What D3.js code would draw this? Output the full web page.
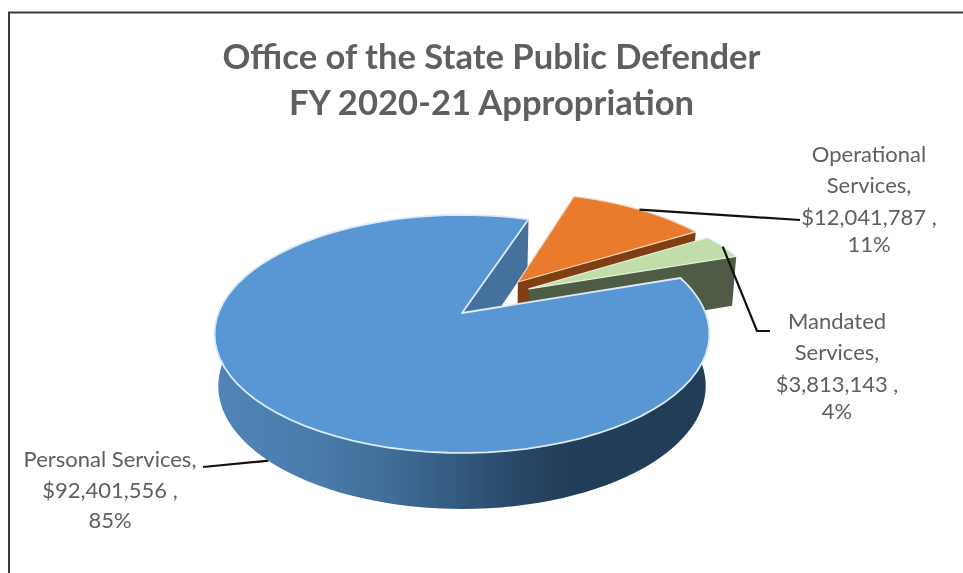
<!DOCTYPE html>
<html>
<head>
<meta charset="utf-8">
<script src="https://cdnjs.cloudflare.com/ajax/libs/d3/7.8.5/d3.min.js"></script>
<style>
html,body{margin:0;padding:0;background:#fff;overflow:hidden}
svg{display:block;filter:blur(0.45px)}
text{font-family:Lato,"Open Sans",sans-serif;fill:#5f5f5f}
</style>
</head>
<body>
<svg id="chart" width="963" height="573"></svg>
<script>
const categories = ["Personal Services", "Operational Services", "Mandated Services"];
const amounts = [92401556, 12041787, 3813143];
const percentLabels = ["85%", "11%", "4%"];
const titleLines = ["Office of the State Public Defender", "FY 2020-21 Appropriation"];

const W = 963, H = 573;
const cx = 462, cy = 313;       // pie apex on screen
const rx = 243.6, ry = 115.3;   // plane scale
const k = 0.176;                // perspective strength
const deg = Math.PI / 180;
const startDeg = 71.3;
const explodeU = [0, 0.241, 0.285];
const explodeV = [0, -0.282, -0.217];

const topColor = ["#5896d4", "#e97b2d", "#c0ddaa"];
const wallColor = ["#44719d", "#7f3f12", "#4e5b45"];

const svg = d3.select("#chart");

const defs = svg.append("defs");
const grad = defs.append("linearGradient").attr("id", "wall")
  .attr("gradientUnits", "userSpaceOnUse")
  .attr("x1", 213).attr("x2", 708).attr("y1", 0).attr("y2", 0);
[[0, "#5085b8"], [0.2, "#4a7cab"], [0.38, "#3f6a95"], [0.5, "#33597e"], [0.6, "#2a4a6a"], [0.72, "#223d57"], [1, "#223d57"]]
  .forEach(([o, c]) => grad.append("stop").attr("offset", o).attr("stop-color", c));

// frame
svg.append("path").attr("d", `M9 ${H}V12.5H${W}`).attr("fill", "none")
  .attr("stroke", "#3a3a3a").attr("stroke-width", 2);

const pie = d3.pie().sort(null).value(d => d)
  .startAngle(startDeg * deg).endAngle(startDeg * deg + 2 * Math.PI);
const arcs = pie(amounts);

function project(u, v) {
  const s = 1 / (1 - k * v);
  return { x: cx + rx * u * s, y: cy + ry * v * s, s };
}
function topPt(i, r, a) {
  const p = project(explodeU[i] + r * Math.sin(a), explodeV[i] - r * Math.cos(a));
  return [p.x, p.y];
}
function botPt(i, r, a) {
  const p = project(explodeU[i] + r * Math.sin(a), explodeV[i] - r * Math.cos(a));
  return [cx + (p.x - cx) * 0.985, p.y + 29 + 22.3 * p.s];
}
const line = d3.line();
const samples = (a0, a1) => { const n = 80; return d3.range(n + 1).map(j => a0 + (a1 - a0) * j / n); };

const wedgeTop = (i, d) => [topPt(i, 0, 0), ...samples(d.startAngle, d.endAngle).map(a => topPt(i, 1, a))];
function drawTop(i, d, stroke, w) {
  svg.append("path").attr("d", line(wedgeTop(i, d)) + "Z")
    .attr("fill", topColor[i]).attr("stroke", stroke).attr("stroke-width", w).attr("stroke-linejoin", "round");
}
function drawEdgeWall(i, a) {
  svg.append("path").attr("d", line([topPt(i, 0, 0), topPt(i, 1, a), botPt(i, 1, a), botPt(i, 0, 0)]) + "Z")
    .attr("fill", wallColor[i]);
}
const [blue, orange, green] = arcs;

drawEdgeWall(0, blue.endAngle);
drawEdgeWall(1, orange.endAngle);
drawEdgeWall(2, green.endAngle);
drawTop(2, green, "#e4f0da", 1.2);
drawTop(1, orange, "#f3d3b8", 1.2);

// leader lines
const mid = d => (d.startAngle + d.endAngle) / 2;
const leaderStyle = p => p.attr("fill", "none").attr("stroke", "#111").attr("stroke-width", 2.2);
leaderStyle(svg.append("path").attr("d", line([topPt(1, 1, mid(orange)), [800, 220]])));
leaderStyle(svg.append("path").attr("d", line([topPt(2, 1, mid(green)), [757, 331], [770, 331]])));
leaderStyle(svg.append("path").attr("d", line([botPt(0, 1, mid(blue)), [203, 467]])));

// blue front wall
const visible = samples(80 * deg, 285 * deg);
svg.append("path")
  .attr("d", line([...visible.map(a => topPt(0, 1, a)), ...visible.slice().reverse().map(a => botPt(0, 1, a))]) + "Z")
  .attr("fill", "url(#wall)");
drawTop(0, blue, "#dce9f6", 1.8);

// text
const title = svg.append("text").attr("text-anchor", "middle")
  .attr("font-weight", 700).attr("font-size", 34.6);
titleLines.forEach((t, i) => title.append("tspan").attr("x", 491.5).attr("y", 69 + i * 46).text(t));

const fmt = d3.format("$,");
function label(x, ys, lines) {
  const t = svg.append("text").attr("text-anchor", "middle").attr("font-size", 22);
  lines.forEach((l, i) => t.append("tspan").attr("x", x).attr("y", ys[i]).text(l));
}
label(869, [162, 193, 225, 252], ["Operational", "Services,", fmt(amounts[1]) + " ,", percentLabels[1]]);
label(837, [329, 360, 392, 419], ["Mandated", "Services,", fmt(amounts[2]) + " ,", percentLabels[2]]);
label(110, [467, 498, 528], [categories[0] + ",", fmt(amounts[0]) + " ,", percentLabels[0]]);
</script>
</body>
</html>
